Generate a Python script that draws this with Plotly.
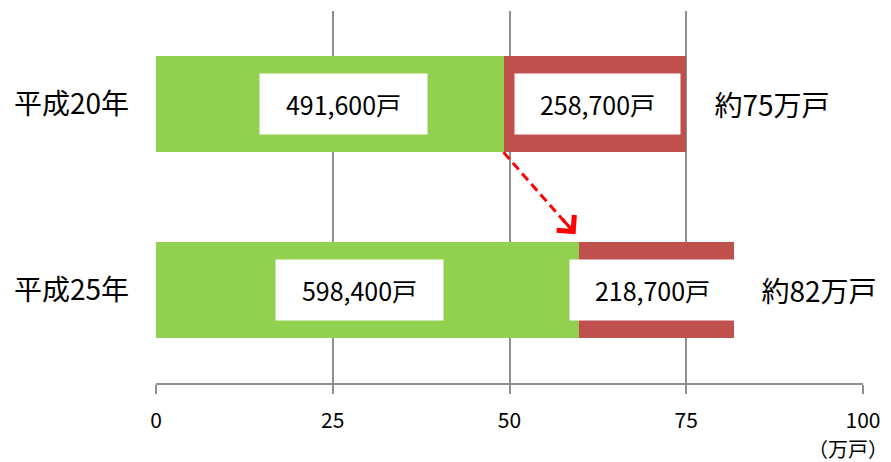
import plotly.graph_objects as go

# ---- data (values in 万戸) ----
categories = ["平成20年", "平成25年"]
green_vals = [49.16, 59.84]
red_vals = [25.87, 21.87]
green_text = ["491,600戸", "598,400戸"]
red_text = ["258,700戸", "218,700戸"]
total_text = ["約75万戸", "約82万戸"]
x_ticks = [0, 25, 50, 75, 100]
unit_label = "（万戸）"

FONT = "Noto Sans CJK JP"
GREEN = "#92D050"
RED = "#C0504D"
GRID = "#8f8f8f"
BAR_W = 0.52

n = len(categories)
ypos = [n - 1 - i for i in range(n)]  # first category on top

fig = go.Figure()
fig.add_trace(go.Bar(orientation="h", y=ypos, x=green_vals, width=BAR_W,
                     marker=dict(color=GREEN, line=dict(width=0)), hoverinfo="skip"))
fig.add_trace(go.Bar(orientation="h", y=ypos, x=red_vals, width=BAR_W,
                     marker=dict(color=RED, line=dict(width=0)), hoverinfo="skip"))

annotations = []
green_shift = [2.0, -1.1]
red_shift = [0.35, -0.6]
for i in range(n):
    g, r = green_vals[i], red_vals[i]
    y = ypos[i]
    annotations.append(dict(x=g / 2 + green_shift[i], y=y, xref="x", yref="y",
                            text=green_text[i], showarrow=False, bgcolor="white",
                            width=165, height=58, font=dict(family=FONT, size=25, color="black")))
    annotations.append(dict(x=g + r / 2 + red_shift[i], y=y, xref="x", yref="y",
                            text=red_text[i], showarrow=False, bgcolor="white",
                            width=163, height=58, font=dict(family=FONT, size=25, color="black")))
    annotations.append(dict(x=g + r + 12.1, y=y, xref="x", yref="y",
                            text=total_text[i], showarrow=False,
                            bgcolor="white" if i == 1 else "rgba(0,0,0,0)",
                            width=150, height=88, font=dict(family=FONT, size=28, color="black")))

# unit label under the last tick
annotations.append(dict(x=1, y=0, xref="paper", yref="paper", xanchor="center", yanchor="middle",
                        xshift=-15, yshift=-65, text=unit_label, showarrow=False,
                        font=dict(family=FONT, size=20, color="black")))

# dashed arrow from end of first green bar to start of second red bar
x0, y0 = green_vals[0], ypos[0] - BAR_W / 2
x1, y1 = green_vals[1] - 0.5, ypos[1] + BAR_W / 2 + 0.04
shapes = [dict(type="line", xref="x", yref="y", x0=x0, y0=y0, x1=x1, y1=y1,
               line=dict(color="#FF0000", width=3, dash="9px,5px"))]
annotations.append(dict(x=x1, y=y1, xref="x", yref="y", ax=-14.5, ay=-16.7, text="",
                        showarrow=True, arrowhead=4, arrowsize=1.5, arrowwidth=3,
                        arrowcolor="#FF0000"))

fig.update_layout(
    width=891, height=462,
    margin=dict(l=156, r=25, t=11, b=79),
    barmode="stack", bargap=0.48, showlegend=False,
    plot_bgcolor="white", paper_bgcolor="white",
    font=dict(family=FONT, color="black"),
    xaxis=dict(range=[0, 100], tickvals=x_ticks, ticktext=[str(t) for t in x_ticks],
               showgrid=True, gridcolor=GRID, gridwidth=1.5, zeroline=False,
               showline=True, linecolor=GRID, linewidth=1.5,
               ticks="outside", ticklen=9, tickwidth=1.5, tickcolor=GRID,
               ticklabelstandoff=9, tickfont=dict(family=FONT, size=21, color="black")),
    yaxis=dict(range=[-0.5, 1.5], tickvals=ypos, ticktext=categories, showgrid=False,
               zeroline=False, showline=False, ticks="", ticklabelstandoff=26,
               tickfont=dict(family=FONT, size=28, color="black")),
    shapes=shapes, annotations=annotations,
)

fig.write_html("out.html", config={"displayModeBar": False},
               post_script="document.body.style.margin='0px';document.body.style.overflow='hidden';")
